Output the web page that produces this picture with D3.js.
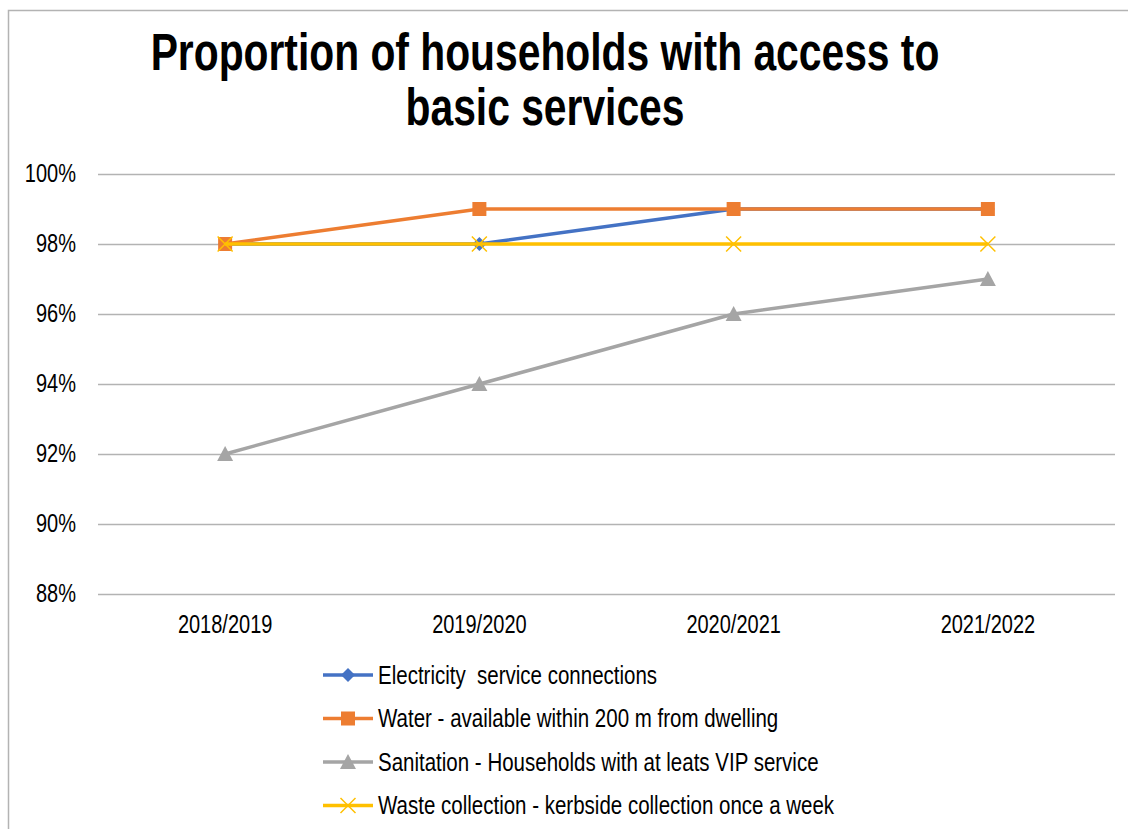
<!DOCTYPE html>
<html>
<head>
<meta charset="utf-8">
<script src="https://cdn.jsdelivr.net/npm/d3@7"></script>
<style>
  html, body { margin: 0; padding: 0; background: #fff; }
  svg { display: block; }
  text { font-family: "Liberation Sans", Arial, sans-serif; fill: #000; white-space: pre; }
</style>
</head>
<body>
<svg id="chart" width="1128" height="829"></svg>
<script>
// Survey years
const categories = ["2018/2019", "2019/2020", "2020/2021", "2021/2022"];

// Share of households with access, per service (%)
const electricity = [98, 98, 99, 99];
const water       = [98, 99, 99, 99];
const sanitation  = [92, 94, 96, 97];
const waste       = [98, 98, 98, 98];

const seriesNames = [
  "Electricity  service connections",
  "Water - available within 200 m from dwelling",
  "Sanitation - Households with at leats VIP service",
  "Waste collection - kerbside collection once a week"
];

const yTicks = [88, 90, 92, 94, 96, 98, 100];

const series = [
  { name: seriesNames[0], values: electricity, color: "#4472C4", marker: "diamond" },
  { name: seriesNames[1], values: water,       color: "#ED7D31", marker: "square" },
  { name: seriesNames[2], values: sanitation,  color: "#A5A5A5", marker: "triangle" },
  { name: seriesNames[3], values: waste,       color: "#FFC000", marker: "cross" }
];

const svg = d3.select("#chart");
const SX = 0.8; // narrow glyph width used across all chart text

// Outer chart frame
svg.append("rect")
  .attr("x", 8.5).attr("y", 10.5)
  .attr("width", 1300).attr("height", 1000)
  .attr("fill", "none").attr("stroke", "#b3b3b3").attr("stroke-width", 1.5);

// Title
const titleLines = ["Proportion of households with access to", "basic services"];
titleLines.forEach((t, i) => {
  svg.append("text")
    .attr("transform", `translate(545,${70 + i * 55}) scale(${SX},1)`)
    .attr("text-anchor", "middle")
    .attr("font-size", 51)
    .attr("font-weight", "bold")
    .text(t);
});

const x = d3.scalePoint().domain(categories).range([98, 1115]).padding(0.5);
const y = d3.scaleLinear().domain([88, 100]).range([594, 174]);

// Horizontal gridlines
svg.append("g")
  .selectAll("line")
  .data(yTicks)
  .join("line")
  .attr("x1", 98).attr("x2", 1115)
  .attr("y1", d => y(d) + 0.5).attr("y2", d => y(d) + 0.5)
  .attr("stroke", "#b3b3b3").attr("stroke-width", 1.5);

// Y tick labels
svg.append("g")
  .selectAll("text")
  .data(yTicks)
  .join("text")
  .attr("transform", d => `translate(76,${y(d)}) scale(${SX},1)`)
  .attr("text-anchor", "end")
  .attr("dominant-baseline", "central")
  .attr("font-size", 25)
  .text(d => d + "%");

// X tick labels
svg.append("g")
  .selectAll("text")
  .data(categories)
  .join("text")
  .attr("transform", d => `translate(${x(d)},633) scale(${SX},1)`)
  .attr("text-anchor", "middle")
  .attr("font-size", 25)
  .text(d => d);

function drawMarker(g, type, color, cx, cy) {
  if (type === "diamond") {
    g.append("path")
      .attr("d", `M${cx},${cy - 7}L${cx + 7},${cy}L${cx},${cy + 7}L${cx - 7},${cy}Z`)
      .attr("fill", color);
  } else if (type === "square") {
    g.append("rect")
      .attr("x", cx - 7).attr("y", cy - 7).attr("width", 14).attr("height", 14)
      .attr("fill", color);
  } else if (type === "triangle") {
    g.append("path")
      .attr("d", `M${cx},${cy - 8}L${cx + 8},${cy + 7}L${cx - 8},${cy + 7}Z`)
      .attr("fill", color);
  } else if (type === "cross") {
    g.append("path")
      .attr("d", `M${cx - 7.5},${cy - 7.5}L${cx + 7.5},${cy + 7.5}M${cx - 7.5},${cy + 7.5}L${cx + 7.5},${cy - 7.5}`)
      .attr("stroke", color).attr("stroke-width", 1.5).attr("fill", "none");
  }
}

const line = d3.line()
  .x((d, i) => x(categories[i]))
  .y(d => y(d));

// Series lines with markers
series.forEach(s => {
  const g = svg.append("g");
  g.append("path")
    .attr("d", line(s.values))
    .attr("fill", "none")
    .attr("stroke", s.color)
    .attr("stroke-width", 3.5)
    .attr("stroke-linejoin", "round");
  s.values.forEach((v, i) => drawMarker(g, s.marker, s.color, x(categories[i]), y(v)));
});

// Legend
const legend = svg.append("g");
series.forEach((s, i) => {
  const cy = 675 + i * 43.5;
  const g = legend.append("g");
  g.append("line")
    .attr("x1", 323).attr("x2", 373)
    .attr("y1", cy).attr("y2", cy)
    .attr("stroke", s.color).attr("stroke-width", 3.5);
  drawMarker(g, s.marker, s.color, 348, cy);
  g.append("text")
    .attr("transform", `translate(378,${cy}) scale(0.82,1)`)
    .attr("dominant-baseline", "central")
    .attr("font-size", 25)
    .text(s.name);
});
</script>
</body>
</html>
